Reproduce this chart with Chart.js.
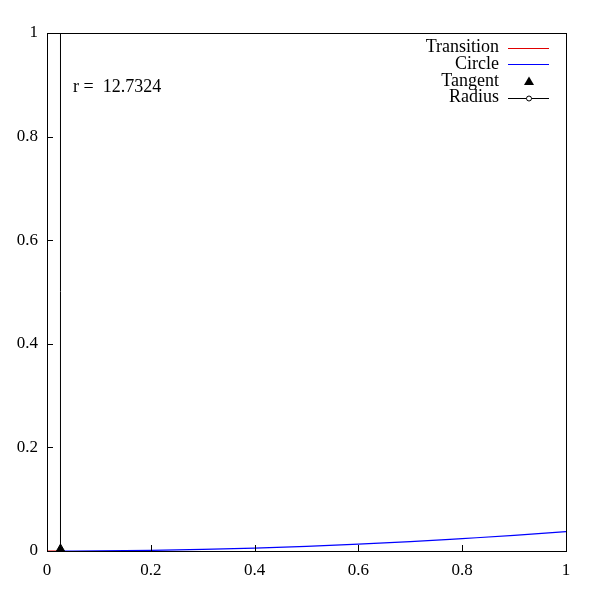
<!DOCTYPE html>
<html>
<head>
<meta charset="utf-8">
<script src="https://cdn.jsdelivr.net/npm/chart.js@4/dist/chart.umd.min.js"></script>
<style>
  body { margin: 0; background: #ffffff; }
  canvas { display: block; }
</style>
</head>
<body>
<canvas id="curveChart" width="600" height="600"></canvas>
<script>
// values
const xTicks = [0, 0.2, 0.4, 0.6, 0.8, 1];
const yTicks = [0, 0.2, 0.4, 0.6, 0.8, 1];

const transitionX = [0, 0.026];
const transitionY = [0, 0];

const circleX = [0.026, 0.1, 0.2, 0.3, 0.4, 0.5, 0.6, 0.7, 0.8, 0.9, 1.0];
const circleY = [0, 0.0002, 0.0012, 0.003, 0.0055, 0.009, 0.0133, 0.0182, 0.024, 0.030, 0.0373];

const tangentX = [0.026];
const tangentY = [0];

const radiusX = [0.026, 0.026];
const radiusY = [0, 12.7324];

const radiusLabel = "r =  12.7324";
const legendNames = ["Transition", "Circle", "Tangent", "Radius"];

const FONT = "Liberation Serif";

function toPoints(xs, ys) {
  return xs.map((x, i) => ({ x: x, y: ys[i] }));
}

const boxPlugin = {
  id: "boxPlugin",
  beforeDraw(chart) {
    const c = chart.ctx;
    c.save();
    c.fillStyle = "#ffffff";
    c.fillRect(0, 0, chart.width, chart.height);
    c.restore();
  },
  afterDraw(chart) {
    const c = chart.ctx;
    const a = chart.chartArea;
    const xs = chart.scales.x;
    const ys = chart.scales.y;
    c.save();
    c.strokeStyle = "#000000";
    c.lineWidth = 1;
    c.strokeRect(Math.round(a.left) + 0.5, Math.round(a.top) + 0.5,
      Math.round(a.right - a.left), Math.round(a.bottom - a.top));

    // inward ticks on left and bottom
    c.beginPath();
    xTicks.forEach((v) => {
      const px = Math.round(xs.getPixelForValue(v)) + 0.5;
      c.moveTo(px, a.bottom);
      c.lineTo(px, a.bottom - 6);
    });
    yTicks.forEach((v) => {
      const py = Math.round(ys.getPixelForValue(v)) + 0.5;
      c.moveTo(a.left, py);
      c.lineTo(a.left + 6, py);
    });
    c.stroke();

    // radius label
    c.fillStyle = "#000000";
    c.font = "18px '" + FONT + "'";
    c.textAlign = "left";
    c.textBaseline = "middle";
    c.fillText(radiusLabel, 73, 87);

    // legend
    const rows = [47.5, 64, 81, 97.5];
    const textRight = 499;
    const lx1 = 508, lx2 = 549;
    c.textAlign = "right";
    chart.data.datasets.forEach((ds, i) => {
      const y = rows[i];
      c.fillStyle = "#000000";
      c.fillText(legendNames[i], textRight, y);
      if (i !== 2) {
        c.strokeStyle = ds.borderColor;
        c.lineWidth = 1;
        c.beginPath();
        c.moveTo(lx1, Math.round(y) + 0.5);
        c.lineTo(lx2, Math.round(y) + 0.5);
        c.stroke();
      }
      const mid = (lx1 + lx2) / 2 + 0.5;
      if (i === 2) {
        c.fillStyle = "#000000";
        c.beginPath();
        c.moveTo(mid, y - 4.5);
        c.lineTo(mid + 5, y + 4);
        c.lineTo(mid - 5, y + 4);
        c.closePath();
        c.fill();
      }
      if (i === 3) {
        c.fillStyle = "#ffffff";
        c.strokeStyle = "#000000";
        c.beginPath();
        c.arc(mid, Math.round(y) + 0.5, 2.5, 0, Math.PI * 2);
        c.fill();
        c.stroke();
      }
    });
    c.restore();
  },
};

new Chart(document.getElementById("curveChart"), {
  type: "scatter",
  data: {
    datasets: [
      {
        label: "Transition",
        data: toPoints(transitionX, transitionY),
        showLine: true,
        borderColor: "#e00000",
        borderWidth: 1,
        pointRadius: 0,
        order: 3,
      },
      {
        label: "Circle",
        data: toPoints(circleX, circleY),
        showLine: true,
        borderColor: "#0000ff",
        borderWidth: 1.2,
        pointRadius: 0,
        cubicInterpolationMode: "monotone",
        order: 2,
      },
      {
        label: "Tangent",
        data: toPoints(tangentX, tangentY),
        showLine: false,
        pointStyle: "triangle",
        pointRadius: 7,
        backgroundColor: "#000000",
        borderColor: "#000000",
        borderWidth: 1,
        order: 0,
      },
      {
        label: "Radius",
        data: toPoints(radiusX, radiusY),
        showLine: true,
        borderColor: "#000000",
        borderWidth: 1,
        pointRadius: 2.5,
        pointBackgroundColor: "#ffffff",
        pointBorderColor: "#000000",
        order: 1,
      },
    ],
  },
  options: {
    responsive: false,
    animation: false,
    devicePixelRatio: 1,
    layout: {
      padding: { top: 33, right: 34, left: 0, bottom: 0 },
    },
    plugins: {
      legend: { display: false },
      tooltip: { enabled: false },
    },
    scales: {
      x: {
        type: "linear",
        min: 0,
        max: 1,
        afterFit: (s) => { s.height = 49; },
        afterBuildTicks: (s) => { s.ticks = xTicks.map((v) => ({ value: v })); },
        grid: { display: false, drawTicks: false },
        border: { display: false },
        ticks: {
          color: "#000000",
          padding: 9,
          maxRotation: 0,
          font: { family: FONT, size: 17 },
          callback: (v) => String(+v.toFixed(1)),
        },
      },
      y: {
        type: "linear",
        min: 0,
        max: 1,
        afterFit: (s) => { s.width = 47; },
        afterBuildTicks: (s) => { s.ticks = yTicks.map((v) => ({ value: v })); },
        grid: { display: false, drawTicks: false },
        border: { display: false },
        ticks: {
          color: "#000000",
          padding: 9,
          font: { family: FONT, size: 17 },
          callback: (v) => String(+v.toFixed(1)),
        },
      },
    },
  },
  plugins: [boxPlugin],
});
</script>
</body>
</html>
